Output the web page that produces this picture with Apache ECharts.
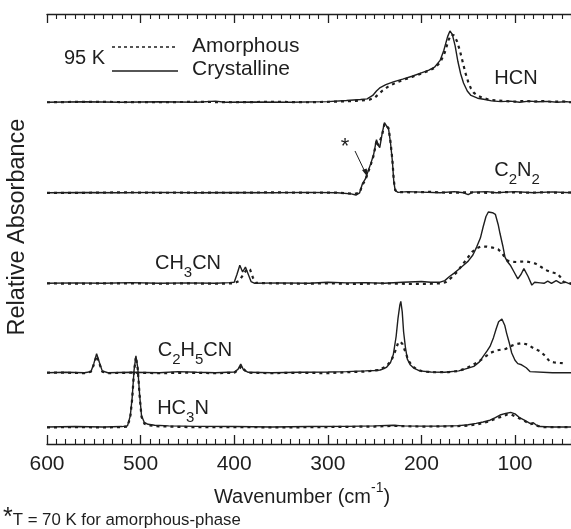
<!DOCTYPE html>
<html><head><meta charset="utf-8">
<script src="https://cdn.jsdelivr.net/npm/echarts@6/dist/echarts.min.js"></script>
<style>html,body{margin:0;padding:0;background:#fff}#c{width:571px;height:529px}</style>
</head><body><div id="c"></div>
<script>
// x tick labels (cm^-1), axis reversed
const xTicks = [600, 500, 400, 300, 200, 100];
// vertical offsets of each spectrum (panel baselines, relative absorbance units)
const molecules = ['HCN', 'C2N2', 'CH3CN', 'C2H5CN', 'HC3N'];
const offsets = [15.1, 11.1, 7.1, 3.15, 0.75];

const hcnCrystalline = [[600,0],[560,0.02],[520,0],[480,0.02],[440,0],[420,0.05],[410,0],[380,0.01],[340,0],[300,0.03],[280,0.08],[265,0.12],[258,0.15],[252,0.3],[248,0.5],[244,0.65],[238,0.78],[230,0.9],[220,1.02],[210,1.15],[200,1.3],[192,1.42],[186,1.55],[180,1.85],[176,2.3],[172,2.9],[169.5,3.15],[167,3.0],[164,2.5],[161,1.8],[158,1.25],[155,0.85],[151,0.5],[147,0.3],[140,0.18],[132,0.12],[125,0.06],[115,0.03],[105,0.05],[95,0],[85,0.05],[75,0.02],[65,0.04],[55,0],[45,0.03],[40,0]];
const hcnAmorphous = [[600,0],[560,0.02],[520,0.01],[480,0],[440,0.02],[400,0],[360,0.02],[320,0],[290,0.03],[270,0.06],[255,0.12],[250,0.2],[246,0.35],[242,0.5],[236,0.68],[228,0.85],[220,0.98],[210,1.12],[200,1.27],[192,1.4],[186,1.52],[180,1.75],[175,2.2],[171,2.75],[168,3.0],[165,2.95],[162,2.7],[159,2.3],[156,1.8],[153,1.3],[150,0.9],[147,0.6],[144,0.42],[140,0.3],[135,0.2],[128,0.12],[120,0.08],[110,0.05],[100,0.03],[90,0.06],[80,0.03],[70,0.05],[60,0.02],[50,0.04],[40,0]];

const c2n2Crystalline = [[600,0],[560,0.01],[520,0],[480,0.02],[440,0],[400,0.01],[360,0],[320,0.02],[290,0],[275,-0.05],[270,-0.1],[266,0],[263,0.4],[260,0.6],[257,0.95],[254,1.3],[251,1.7],[248,2.35],[246,2.1],[244.5,2.0],[242,2.6],[239.5,3.1],[237.5,3.15],[235,2.8],[233,2.2],[231,1.4],[229.5,0.5],[228,0.1],[225,0.02],[215,0.05],[200,0.03],[180,0],[165,0.05],[155,0],[150,-0.08],[145,0.03],[130,0.05],[120,0],[100,0.05],[80,0],[60,0.04],[40,0]];
const c2n2Amorphous = [[600,0],[560,0],[520,0.02],[480,0],[440,0.01],[400,0],[360,0.02],[320,0],[290,0.01],[272,-0.05],[266,0],[263,0.35],[260,0.55],[257,0.9],[254,1.25],[251,1.65],[248,2.3],[246,2.1],[244.5,2.05],[242,2.55],[239.5,3.05],[237.5,3.12],[235,2.85],[233,2.25],[231,1.45],[229.5,0.55],[228,0.12],[225,0.03],[210,0.02],[190,0.04],[170,0],[150,0.02],[130,0],[110,0.03],[90,0],[70,0.02],[50,0],[40,0.02]];

const ch3cnCrystalline = [[600,0],[570,0.02],[540,0],[510,0.03],[480,0],[450,0.02],[420,0],[405,0.03],[400,0.05],[397,0.4],[394,0.8],[391,0.5],[388,0.72],[385,0.4],[382,0.08],[378,0],[350,0.02],[320,0],[300,0.05],[280,0.02],[260,0.03],[240,0],[220,0.05],[200,0.08],[190,0.05],[180,0.05],[175,0.12],[170,0.3],[165,0.45],[160,0.62],[155,0.8],[150,0.98],[145,1.25],[141,1.6],[137,2.0],[134,2.5],[131,2.95],[128.5,3.15],[124,3.12],[121,3.05],[118,2.6],[116,2.2],[113,1.65],[110.7,1.16],[108,0.95],[105,0.8],[101,0.5],[97,0.2],[93.5,0.4],[90.5,0.65],[86,0.3],[82,-0.08],[79,0.05],[77,0.13],[73,0.02],[69,0],[65,0.1],[61,0],[56,0.12],[51,0],[46,0.05],[40,-0.05]];
const ch3cnAmorphous = [[600,0],[570,-0.02],[540,0],[510,0],[480,-0.02],[450,0],[420,-0.02],[400,0],[395,0.1],[390,0.4],[386,0.65],[383,0.6],[380,0.25],[377,0.02],[360,0],[330,-0.02],[300,0],[270,-0.03],[240,0],[210,-0.03],[190,-0.02],[180,0],[174,0.05],[168,0.25],[162,0.5],[158,0.72],[152,1.05],[146,1.38],[141,1.55],[136,1.63],[130,1.62],[124,1.58],[118,1.5],[114,1.35],[111,1.15],[108,1.0],[103,0.95],[98,0.94],[93,0.96],[88,0.97],[83,0.92],[78,0.87],[72,0.72],[66,0.57],[60,0.48],[55,0.43],[51,0.25],[48,0.06],[40,0]];

const c2h5cnCrystalline = [[600,0],[580,0.02],[560,0],[553,0.05],[550,0.4],[547,0.84],[544,0.45],[541,0.08],[535,0],[510,0.02],[480,0],[460,0.05],[440,0.02],[420,0],[400,0.03],[396,0.15],[393,0.38],[390,0.12],[385,0.02],[360,0],[330,0.02],[300,0.03],[280,0.05],[260,0.08],[250,0.1],[244,0.12],[240,0.18],[237,0.25],[233,0.45],[230,0.8],[227,1.6],[225,2.4],[223,3.0],[222,3.15],[220.5,2.7],[219,1.8],[217,1.1],[215,0.6],[212,0.35],[208,0.2],[202,0.08],[190,0.03],[175,0.02],[160,0.08],[150,0.2],[144,0.28],[138,0.48],[134,0.72],[130,0.95],[126.7,1.16],[123,1.55],[120,1.95],[117.5,2.25],[114,2.37],[111,2.1],[109,1.75],[106,1.3],[103.5,0.87],[100,0.55],[97,0.4],[93,0.35],[88,0.22],[84,0.05],[82,0],[60,0],[40,0]];
const c2h5cnAmorphous = [[600,0],[580,0],[560,-0.02],[553,0.05],[550,0.35],[547,0.75],[544,0.4],[541,0.05],[535,-0.02],[510,0],[480,-0.02],[450,0],[420,-0.02],[400,0],[396,0.1],[392,0.3],[389,0.12],[385,0],[360,-0.02],[330,0],[300,-0.02],[280,0.02],[260,0.05],[245,0.12],[237,0.3],[232,0.55],[228,0.95],[225,1.3],[222.5,1.38],[220,1.25],[217,0.9],[214,0.55],[210,0.3],[205,0.15],[198,0.05],[185,0.02],[170,0.03],[160,0.08],[152,0.2],[145,0.35],[138,0.52],[132,0.7],[126,0.88],[120,0.98],[115,1.02],[110,1.05],[105.4,1.16],[100,1.25],[93,1.31],[87,1.25],[80.4,1.09],[76,1.0],[73,0.94],[68,0.75],[63,0.5],[58,0.45],[52,0.43],[49,0.42]];

const hc3nCrystalline = [[600,0],[570,0.02],[540,0],[520,0.02],[514,0.05],[511,0.5],[509,1.3],[507,2.5],[505,3.14],[503,2.6],[501,1.4],[499,0.5],[496,0.2],[492,0.12],[485,0.08],[470,0.05],[440,0.03],[400,0.02],[360,0],[320,0.02],[280,0.03],[250,0.05],[230,0.08],[220,0.05],[200,0.04],[180,0.04],[160,0.06],[150,0.1],[141.5,0.16],[134,0.22],[126.7,0.3],[121,0.42],[116,0.53],[110,0.6],[104.6,0.65],[100,0.58],[94.6,0.4],[89,0.28],[84,0.16],[80.4,0.19],[77,0.08],[73,0.02],[60,0],[40,0]];
const hc3nAmorphous = [[600,-0.02],[570,0],[540,-0.02],[520,0],[514,0.02],[511,0.45],[509,1.25],[507,2.45],[505,3.1],[503,2.55],[501,1.35],[499,0.45],[496,0.15],[492,0.08],[480,0.03],[450,0],[400,0],[350,-0.02],[300,0],[250,0.02],[230,0.05],[200,0.02],[170,0.03],[150,0.06],[140,0.12],[130,0.22],[122,0.35],[115,0.45],[108,0.55],[104,0.55],[99,0.45],[94,0.36],[89,0.25],[84,0.12],[80,0.15],[76,0.05],[70,0],[55,0],[40,0]];

const amorphousSets = [hcnAmorphous, c2n2Amorphous, ch3cnAmorphous, c2h5cnAmorphous, hc3nAmorphous];
const crystallineSets = [hcnCrystalline, c2n2Crystalline, ch3cnCrystalline, c2h5cnCrystalline, hc3nCrystalline];

const INK = '#1e1e1e';
const FONT = 'Liberation Sans, Arial, sans-serif';

const series = [];
molecules.forEach((m, i) => {
  const off = offsets[i];
  series.push({
    name: m + ' amorphous', type: 'line', showSymbol: false, symbol: 'none', smooth: false,
    data: amorphousSets[i].map(p => [p[0], p[1] + off]),
    lineStyle: { color: INK, width: 2.2, type: [3, 4] }, z: 2, animation: false
  });
  series.push({
    name: m + ' crystalline', type: 'line', showSymbol: false, symbol: 'none', smooth: false,
    data: crystallineSets[i].map(p => [p[0], p[1] + off]),
    lineStyle: { color: INK, width: 1.4 }, z: 3, animation: false
  });
});

const axisCommon = {
  type: 'value', min: 0, max: 600, interval: 100, inverse: true,
  axisLine: { show: true, onZero: false, lineStyle: { color: INK, width: 1.3 } },
  axisTick: { show: true, inside: true, length: 9, lineStyle: { color: INK, width: 1.3 } },
  minorTick: { show: true, splitNumber: 10, length: 5, lineStyle: { color: INK, width: 1.1 } },
  splitLine: { show: false }, minorSplitLine: { show: false }
};

const subRich = {
  sub: { fontSize: 15, fontFamily: FONT, fill: INK, padding: [12, 0, 0, 0], lineHeight: 15, verticalAlign: 'top' },
  b: { fontSize: 20, fontFamily: FONT, fill: INK, lineHeight: 24, verticalAlign: 'top' }
};

function label(txt, x, y) {
  return { type: 'text', x: x, y: y, z: 10,
    style: { text: txt, rich: subRich, fill: INK, font: '20px ' + FONT, align: 'center', verticalAlign: 'middle' } };
}

const chart = echarts.init(document.getElementById('c'), null, { renderer: 'canvas' });
chart.setOption({
  animation: false,
  backgroundColor: '#fff',
  grid: { left: 47, top: 14, width: 561.6, height: 430, containLabel: false, outerBoundsMode: 'none' },
  xAxis: [
    Object.assign({}, axisCommon, { position: 'bottom',
      axisLabel: { show: true, fontSize: 21, fontFamily: FONT, color: INK, margin: 10,
        formatter: v => (xTicks.indexOf(v) >= 0 ? String(v) : '') } }),
    Object.assign({}, axisCommon, { position: 'top', axisLabel: { show: false } })
  ],
  yAxis: {
    type: 'value', min: 0, max: 19, interval: 1,
    axisLine: { show: true, lineStyle: { color: INK, width: 1.3 } },
    axisTick: { show: true, inside: true, length: 7, lineStyle: { color: INK, width: 1.3 } },
    axisLabel: { show: false }, splitLine: { show: false }
  },
  series: series,
  graphic: [
    { type: 'text', x: 18, y: 227, rotation: Math.PI / 2, z: 10,
      style: { text: 'Relative Absorbance', font: '23.5px ' + FONT, fill: INK, align: 'center', verticalAlign: 'middle' } },
    { type: 'text', x: 302, y: 494, z: 10,
      style: { text: '{b|Wavenumber (cm}{sup|-1}{b|)}', fill: INK, align: 'center', verticalAlign: 'middle',
        rich: { b: { fontSize: 20, fontFamily: FONT, fill: INK, lineHeight: 26, verticalAlign: 'top', padding: [6, 0, 0, 0] },
                sup: { fontSize: 14, fontFamily: FONT, fill: INK, lineHeight: 14, verticalAlign: 'top' } } } },
    { type: 'text', x: 3, y: 516, z: 10,
      style: { text: '{st|*}{t|T = 70 K for amorphous-phase}', fill: INK, align: 'left', verticalAlign: 'middle',
        rich: { st: { fontSize: 25, fontFamily: FONT, fill: INK, lineHeight: 20, verticalAlign: 'top' },
                t: { fontSize: 16.8, fontFamily: FONT, fill: INK, lineHeight: 17, verticalAlign: 'top', padding: [6, 0, 0, 0] } } } },
    // legend
    { type: 'text', x: 64, y: 58, z: 10, style: { text: '95 K', font: '20px ' + FONT, fill: INK, align: 'left', verticalAlign: 'middle' } },
    { type: 'line', z: 10, shape: { x1: 112, y1: 47, x2: 178, y2: 47 }, style: { stroke: INK, lineWidth: 1.6, lineDash: [3, 3] } },
    { type: 'line', z: 10, shape: { x1: 112, y1: 71, x2: 178, y2: 71 }, style: { stroke: INK, lineWidth: 1.4 } },
    { type: 'text', x: 192, y: 46, z: 10, style: { text: 'Amorphous', font: '21px ' + FONT, fill: INK, align: 'left', verticalAlign: 'middle' } },
    { type: 'text', x: 192, y: 69, z: 10, style: { text: 'Crystalline', font: '21px ' + FONT, fill: INK, align: 'left', verticalAlign: 'middle' } },
    // molecule labels
    label('{b|HCN}', 516, 80),
    label('{b|C}{sub|2}{b|N}{sub|2}', 517, 172),
    label('{b|CH}{sub|3}{b|CN}', 188, 265),
    label('{b|C}{sub|2}{b|H}{sub|5}{b|CN}', 195, 352),
    label('{b|HC}{sub|3}{b|N}', 183, 410),
    // asterisk annotation
    { type: 'text', x: 345, y: 147, z: 10, style: { text: '*', font: '22px ' + FONT, fill: INK, align: 'center', verticalAlign: 'middle' } },
    { type: 'line', z: 10, shape: { x1: 355, y1: 151, x2: 366, y2: 174 }, style: { stroke: INK, lineWidth: 1 } },
    { type: 'polygon', z: 10, shape: { points: [[367.5, 177], [362, 170], [366.8, 168.4]] }, style: { fill: INK } }
  ]
});
</script></body></html>
